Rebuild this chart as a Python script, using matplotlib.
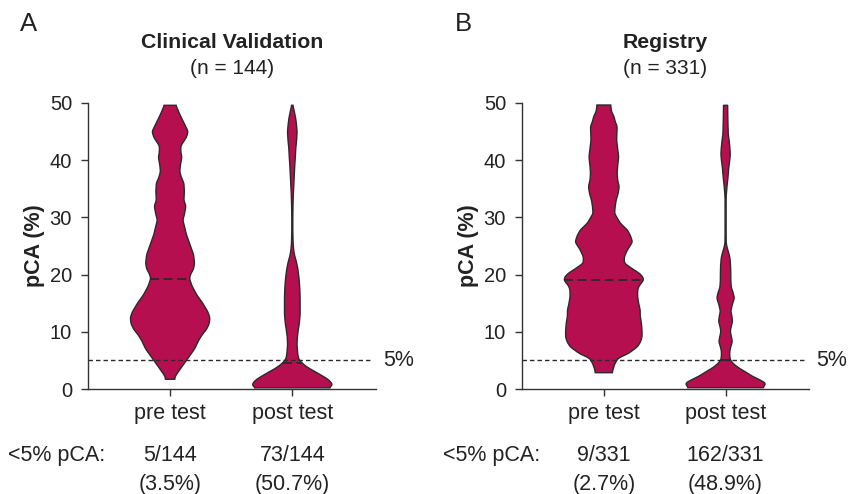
import numpy as np
import matplotlib
matplotlib.use("Agg")
import matplotlib.pyplot as plt
from matplotlib.transforms import blended_transform_factory

plt.rcParams['font.family'] = ['Liberation Sans', 'DejaVu Sans']

# ---------------- data ----------------
groups = ["pre test", "post test"]

# Panel A: Clinical Validation (n = 144)  -- density profiles (y in %, relative density)
a_pre_y = [1.7, 2.2, 3, 4, 5.5, 7, 8.5, 9.5, 10.5, 11.5, 12.5, 13.5, 15, 16.5, 18, 19.3,
           20, 21, 22, 23.5, 25, 27, 28.5, 29.5, 30.5, 32, 33, 34.5, 36, 37, 38, 39,
           40.5, 41.5, 42.5, 44, 45, 46, 48, 49.6]
a_pre_d = [4.5, 5, 8, 12, 18, 24, 28, 31.5, 36, 38.5, 39, 37, 32, 26, 21.5, 19,
           20, 23, 24, 23, 20, 16, 14, 12.5, 14, 15.5, 13.5, 14, 13.5, 11, 9.5, 10,
           11.5, 10.5, 10.5, 16, 17.7, 15, 9.5, 5.7]
a_post_y = [0.2, 0.75, 1.6, 2.3, 3.1, 3.8, 4.5, 5.2, 6.0, 7.7, 9, 10.1, 11.5, 13.0, 15.9,
            17.5, 19.4, 21, 22.3, 23.2, 24.1, 25.5, 27.6, 30, 32.2, 34, 35.7, 37.5,
            39.2, 40.5, 42.1, 43.5, 45, 46.5, 47.4, 48.5, 49.6]
a_post_d = [37, 40.5, 36.5, 30, 22, 15, 10, 6.5, 5.5, 4.7, 5, 5.8, 7, 7.8, 7.8,
            7.5, 6.7, 5.5, 4, 2.5, 1.5, 0.8, 0.5, 0.5, 0.7, 1.0, 1.5, 2.0,
            2.5, 3.0, 3.5, 4.3, 4.8, 4, 3.3, 2, 0.6]
a_medians = [19.3, 4.6]

# Panel B: Registry (n = 331)
b_pre_y = [2.85, 3.5, 4.5, 5.4, 6.2, 7.4, 8.3, 9.1, 10.2, 11.5, 12.8, 13.8, 15, 16.1,
           17.2, 17.9, 18.6, 19.05, 19.6, 20.2, 21, 22, 23.1, 24.3, 25.7, 26.8, 27.8,
           29, 30.7, 31.8, 33, 34.2, 35.4, 36.5, 37.7, 39, 40.6, 42, 43.5, 44.5, 45.9,
           46.8, 47.6, 48.5, 49.65]
b_pre_d = [8.3, 9, 11, 14, 24, 33, 36, 37.3, 37.3, 36.7, 35.5, 35.5, 34, 33,
           33, 34, 37, 39, 38, 35, 28, 20, 20, 23, 28, 26, 23,
           16, 10.5, 11, 12, 14, 15, 13.5, 13, 13.5, 14.5, 13.5, 12.5, 12.7, 13,
           11, 10, 7.5, 6.7]
b_post_y = [0.23, 1.0, 1.6, 2.2, 3.0, 3.7, 4.4, 5.1, 5.8, 6.6, 7.4, 8.3, 9.2, 10.1, 11.0,
            11.8, 12.8, 13.6, 14.8, 15.9, 17.0, 17.7, 19, 20, 21.5, 22.9, 23.8, 24.7,
            25.5, 27, 31, 33.2, 34, 35.7, 37, 38.6, 40, 41, 42, 43.3, 44.5, 46.2, 48, 49.6]
b_post_d = [36, 39, 33, 26, 19, 12.5, 7.5, 4.5, 4, 4, 5, 6.5, 5.5, 4.5, 5.5,
            6.7, 6, 5, 6.5, 8.5, 7, 5.5, 5, 5, 4.8, 4.2, 3, 1.5,
            0.6, 0.5, 0.5, 0.5, 0.7, 1.5, 2.3, 3, 4, 4.5, 4.2, 3.5, 2.6, 2.3, 2.1, 2]
b_medians = [19.05, 5.1]

titles = ["Clinical Validation", "Registry"]
n_labels = ["(n = 144)", "(n = 331)"]
panel_letters = ["A", "B"]
below5_counts = [["5/144", "73/144"], ["9/331", "162/331"]]
below5_pct = [["(3.5%)", "(50.7%)"], ["(2.7%)", "(48.9%)"]]
threshold = 5
yticks = [0, 10, 20, 30, 40, 50]

# ---------------- style ----------------
FILL = "#B50F4F"
EDGE = "#2a2a2a"
TXT = "#222222"
HALF_W = 0.324

fig = plt.figure(figsize=(8.5, 4.94), dpi=100)
W, H = 850, 494


def ax_rect(x0, x1, ytop, ybot):
    return [x0 / W, 1 - ybot / H, (x1 - x0) / W, (ybot - ytop) / H]


def smooth_profile(ys, ds):
    ys = np.asarray(ys, float)
    ds = np.asarray(ds, float)
    grid = np.linspace(ys[0], ys[-1], 600)
    prof = np.interp(grid, ys, ds)
    step = grid[1] - grid[0]
    sig = 0.22 / step
    k = np.arange(-int(4 * sig), int(4 * sig) + 1)
    ker = np.exp(-0.5 * (k / sig) ** 2)
    ker /= ker.sum()
    pad = len(k) // 2
    pp = np.pad(prof, pad, mode="edge")
    sm = np.convolve(pp, ker, mode="valid")
    return grid, sm


def draw_violin(ax, pos, ys, ds, med):
    g, d = smooth_profile(ys, ds)
    w = d / d.max() * HALF_W
    xs = np.concatenate([pos + w, (pos - w)[::-1]])
    yy = np.concatenate([g, g[::-1]])
    ax.fill(xs, yy, facecolor=FILL, edgecolor=EDGE, linewidth=1.0, zorder=3)
    mw = np.interp(med, g, w)
    ax.plot([pos - mw, pos + mw], [med, med], color=EDGE, lw=1.3,
            linestyle=(0, (5, 2.5)), zorder=4)


panels = [
    dict(rect=ax_rect(88, 376, 103, 389), letter_x=20, row_x=8,
         violins=[(a_pre_y, a_pre_d), (a_post_y, a_post_d)], med=a_medians),
    dict(rect=ax_rect(522, 809, 103, 389), letter_x=455, row_x=443,
         violins=[(b_pre_y, b_pre_d), (b_post_y, b_post_d)], med=b_medians),
]

for i, p in enumerate(panels):
    ax = fig.add_axes(p["rect"])
    ax.set_xlim(-0.672, 1.685)
    ax.set_ylim(0, 50)
    for j, (ys, ds) in enumerate(p["violins"]):
        draw_violin(ax, j, ys, ds, p["med"][j])

    # threshold line
    ax.plot([-0.672, 1.64], [threshold, threshold], color=EDGE, lw=1.0,
            linestyle=(0, (3.2, 2.2)), zorder=5, clip_on=False)
    ax.text(1.746, threshold, f"{threshold}%", ha="left", va="center",
            fontsize=15.5, color=TXT, clip_on=False)

    for s in ["top", "right"]:
        ax.spines[s].set_visible(False)
    for s in ["left", "bottom"]:
        ax.spines[s].set_color("#333333")
        ax.spines[s].set_linewidth(1.0)

    ax.set_yticks(yticks)
    ax.set_xticks(range(len(groups)))
    ax.set_xticklabels(groups)
    ax.tick_params(axis="y", direction="out", length=5, width=1.0, pad=6.5,
                   labelsize=14.5, colors="#333333", labelcolor=TXT)
    ax.tick_params(axis="x", direction="out", length=5, width=1.0, pad=5,
                   labelsize=15.5, colors="#333333", labelcolor=TXT)

    ax.text(-0.186, 0.5, "pCA (%)", transform=ax.transAxes, rotation=90,
            ha="center", va="center", fontsize=15.5, fontweight="bold", color=TXT)

    ax.text(0.5, 1.21, titles[i], transform=ax.transAxes, ha="center", va="center",
            fontsize=15.3, fontweight="bold", color=TXT)
    ax.text(0.5, 1.119, n_labels[i], transform=ax.transAxes, ha="center", va="center",
            fontsize=15, color=TXT)

    fig.text(p["letter_x"] / W, 1 - 24 / H, panel_letters[i], ha="left", va="center",
             fontsize=18.5, color=TXT)

    tr = blended_transform_factory(ax.transData, ax.transAxes)
    fig.text(p["row_x"] / W, 1 - 455 / H, "<5% pCA:", ha="left", va="center",
             fontsize=15.5, color=TXT)
    for j in range(len(groups)):
        ax.text(j, (389 - 455) / 286, below5_counts[i][j], transform=tr,
                ha="center", va="center", fontsize=15.5, color=TXT)
        ax.text(j, (389 - 484) / 286, below5_pct[i][j], transform=tr,
                ha="center", va="center", fontsize=15.5, color=TXT)

fig.savefig("out.png", dpi=100)
